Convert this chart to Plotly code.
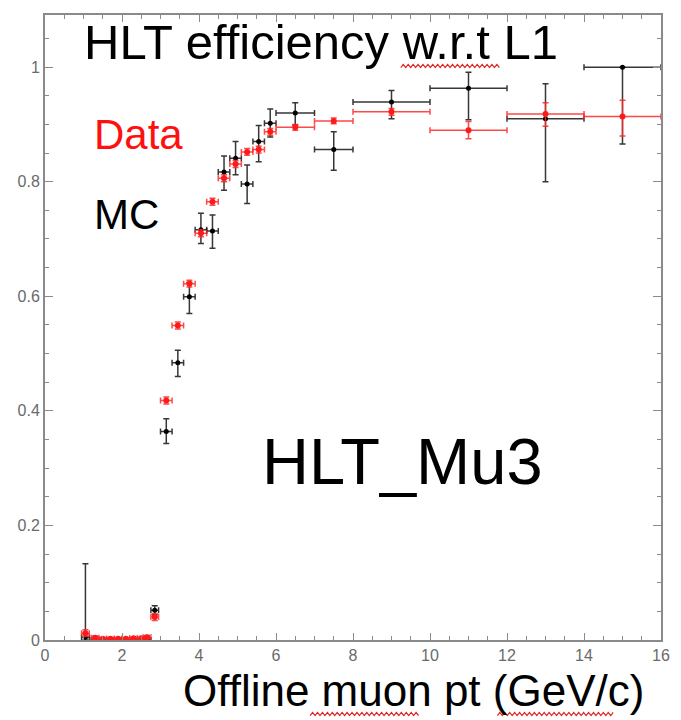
import plotly.graph_objects as go

# ---- data ----
pt_center = [1.05, 1.3, 1.5, 1.7, 1.9, 2.1, 2.3, 2.5, 2.65, 2.85,
             3.15, 3.45, 3.75, 4.05, 4.35, 4.65, 4.95, 5.25, 5.55, 5.85,
             6.5, 7.5, 9.0, 11.0, 13.0, 15.0]
pt_halfwidth = [0.1] * 10 + [0.15] * 10 + [0.5, 0.5, 1.0, 1.0, 1.0, 1.0]

data_eff = [0.012, 0.004, 0.002, 0.002, 0.002, 0.002, 0.003, 0.003, 0.005, 0.040,
            0.418, 0.549, 0.622, 0.710, 0.765, 0.806, 0.831, 0.852, 0.856, 0.887,
            0.895, 0.906, 0.922, 0.890, 0.918, 0.914]
data_err_up = [0.006, 0.003, 0.002, 0.002, 0.002, 0.002, 0.002, 0.002, 0.003, 0.006,
               0.006, 0.006, 0.006, 0.006, 0.006, 0.006, 0.006, 0.006, 0.006, 0.006,
               0.005, 0.005, 0.006, 0.015, 0.020, 0.028]
data_err_dn = [0.006, 0.003, 0.002, 0.002, 0.002, 0.002, 0.002, 0.002, 0.003, 0.006,
               0.006, 0.006, 0.006, 0.006, 0.006, 0.006, 0.006, 0.006, 0.006, 0.006,
               0.005, 0.005, 0.006, 0.015, 0.021, 0.034]

mc_eff = [0.005, 0.0, 0.0, 0.0, 0.0, 0.0, 0.0, 0.0, 0.0, 0.052,
          0.364, 0.484, 0.599, 0.716, 0.714, 0.817, 0.841, 0.796, 0.870, 0.902,
          0.920, 0.856, 0.939, 0.963, 0.910, 1.0]
mc_err_up = [0.128, 0.0, 0.0, 0.0, 0.0, 0.0, 0.0, 0.0, 0.0, 0.008,
             0.022, 0.022, 0.025, 0.029, 0.028, 0.028, 0.029, 0.033, 0.028, 0.025,
             0.018, 0.031, 0.020, 0.028, 0.061, 0.0]
mc_err_dn = [0.005, 0.0, 0.0, 0.0, 0.0, 0.0, 0.0, 0.0, 0.0, 0.008,
             0.021, 0.024, 0.029, 0.024, 0.030, 0.032, 0.029, 0.034, 0.035, 0.024,
             0.021, 0.036, 0.029, 0.055, 0.110, 0.134]

y_tickvals = [0, 0.2, 0.4, 0.6, 0.8, 1.0]
x_tickvals = [0, 2, 4, 6, 8, 10, 12, 14, 16]

# ---- layout geometry (pixels) ----
W, H = 681, 720
L, R, T, B = 45, 11, 15, 80
PW, PH = W - L - R, H - T - B


def px(xp):
    return (xp - L) / PW


def py(yp):
    return (H - B - yp) / PH


FONT = "Liberation Sans, Arial, Helvetica, sans-serif"

fig = go.Figure()

fig.add_trace(go.Scatter(
    x=pt_center, y=mc_eff, mode="markers",
    marker=dict(color="black", size=5, symbol="circle"),
    error_x=dict(type="data", array=pt_halfwidth, symmetric=True,
                 color="rgba(20,20,20,0.85)", thickness=1.5, width=3),
    error_y=dict(type="data", array=mc_err_up, arrayminus=mc_err_dn, symmetric=False,
                 color="rgba(20,20,20,0.85)", thickness=1.5, width=3),
    name="MC", showlegend=False,
))

fig.add_trace(go.Scatter(
    x=pt_center, y=data_eff, mode="markers",
    marker=dict(color="#ff1a1a", size=6, symbol="circle"),
    error_x=dict(type="data", array=pt_halfwidth, symmetric=True,
                 color="rgba(255,40,40,0.85)", thickness=1.5, width=3),
    error_y=dict(type="data", array=data_err_up, arrayminus=data_err_dn, symmetric=False,
                 color="rgba(255,40,40,0.85)", thickness=1.5, width=3),
    name="Data", showlegend=False,
))

axis_common = dict(
    showline=True, linecolor="#8a8a8a", linewidth=2, mirror="allticks",
    ticks="inside", tickcolor="#8a8a8a", tickwidth=1,
    showgrid=False, zeroline=False,
    tickfont=dict(family=FONT, size=16, color="#6a6a6a"),
)

fig.update_xaxes(range=[0, 16], tickvals=x_tickvals, ticklen=7,
                 minor=dict(dtick=0.5, ticklen=4, ticks="inside", tickcolor="#8a8a8a"),
                 **axis_common)
fig.update_yaxes(range=[0, 1.091], tickvals=y_tickvals, ticklen=8,
                 minor=dict(dtick=0.05, ticklen=4, ticks="inside", tickcolor="#8a8a8a"),
                 **axis_common)

annots = [
    dict(text="HLT efficiency w.r.t L1", x=px(83), y=py(42), size=49, color="black"),
    dict(text="Data", x=px(93), y=py(135), size=42, color="#ff1010"),
    dict(text="MC", x=px(93), y=py(214), size=42, color="black"),
    dict(text="HLT_Mu3", x=px(263), y=py(461), size=65, color="black"),
    dict(text="Offline muon pt (GeV/c)", x=px(183), y=py(690), size=44, color="black"),
]
for a in annots:
    fig.add_annotation(text=a["text"], x=a["x"], y=a["y"], xref="paper", yref="paper",
                       xanchor="left", yanchor="middle", showarrow=False,
                       font=dict(family=FONT, size=a["size"], color=a["color"]))


# red wavy spell-check underlines (decoration)
def squiggle(x0, x1, yc, amp=1.6, step=2.5):
    pts = []
    xp = x0
    k = 0
    while xp <= x1:
        yy = yc + (amp if k % 2 == 0 else -amp)
        pts.append((px(xp), py(yy)))
        xp += step
        k += 1
    path = "M " + " L ".join(f"{a:.5f},{b:.5f}" for a, b in pts)
    return path


for (x0, x1, yc) in [(406, 508, 66), (314, 426, 714), (504, 622, 714)]:
    fig.add_shape(type="path", path=squiggle(x0, x1, yc), xref="paper", yref="paper",
                  line=dict(color="#e02020", width=1.2))

fig.update_layout(
    width=W, height=H,
    margin=dict(l=L, r=R, t=T, b=B),
    paper_bgcolor="white", plot_bgcolor="white",
    showlegend=False,
)

fig.write_html("out.html")
